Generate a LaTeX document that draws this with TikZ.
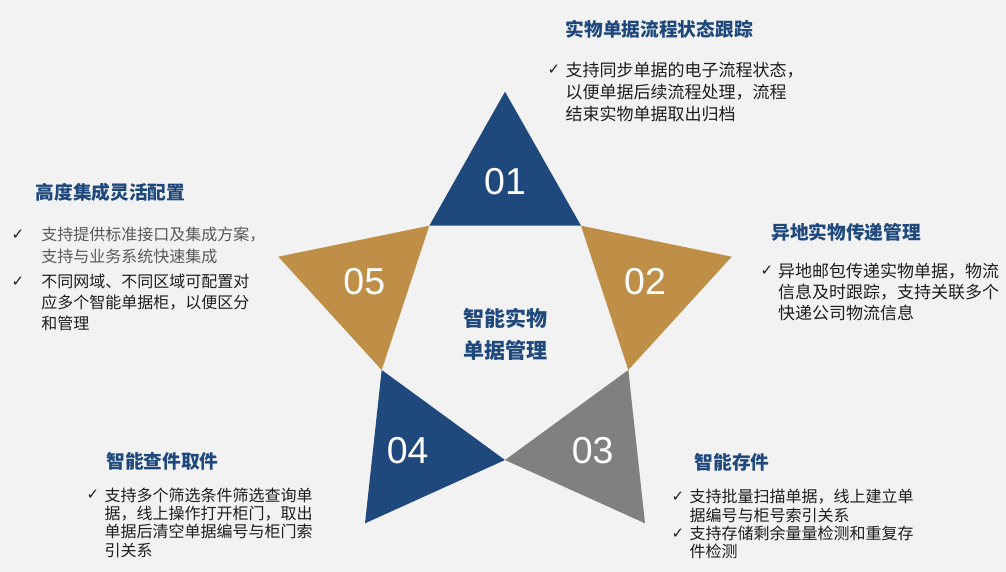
\documentclass[tikz,border=0pt]{standalone}
\usepackage{fontspec}
\setmainfont{Liberation Sans}
\newfontfamily\cjk{Noto Sans CJK SC}
\newfontfamily\symfont{DejaVu Sans}
\definecolor{bgcol}{HTML}{F2F2F2}
\definecolor{starblue}{HTML}{1F497D}
\definecolor{stargold}{HTML}{BF8F48}
\definecolor{stargray}{HTML}{808080}
\definecolor{titleblue}{HTML}{1F497D}
\definecolor{bodytext}{HTML}{1E1E1E}
\definecolor{bodygray}{HTML}{595959}
\tikzset{
  ttl/.style={anchor=west, inner sep=0pt, font=\cjk\bfseries\fontsize{18.7}{20}\selectfont, text=titleblue},
  bodyline/.style={anchor=west, inner sep=0pt, font=\cjk\fontsize{16}{18}\selectfont, text=bodytext},
  bodybig/.style={bodyline, font=\cjk\fontsize{17}{19}\selectfont},
  chk/.style={anchor=center, inner sep=0pt, font=\symfont\fontsize{15}{17}\selectfont, text=bodytext},
  num/.style={inner sep=0pt, font=\fontsize{37.5}{40}\selectfont, text=white},
  centre/.style={inner sep=0pt, font=\cjk\bfseries\fontsize{21}{24}\selectfont, text=titleblue}
}
\begin{document}
\begin{tikzpicture}[x=1pt,y=-1pt]
\fill[bgcol] (0,0) rectangle (1006,572);
\useasboundingbox (0,0) rectangle (1006,572);
% star geometry
\coordinate (i1) at (429.3,225.7);
\coordinate (i2) at (581,225.7);
\coordinate (i3) at (628.3,370);
\coordinate (i4) at (505,460);
\coordinate (i5) at (381.7,370);
\coordinate (o1) at (505,91.7);
\coordinate (o2) at (731.7,256.7);
\coordinate (o3) at (645,523.3);
\coordinate (o4) at (365,523.3);
\coordinate (o5) at (278.3,256.7);
\fill[starblue] (i1) -- (o1) -- (i2) -- cycle;
\fill[stargold] (i2) -- (o2) -- (i3) -- cycle;
\fill[stargray] (i3) -- (o3) -- (i4) -- cycle;
\fill[starblue] (i4) -- (o4) -- (i5) -- cycle;
\fill[stargold] (i5) -- (o5) -- (i1) -- cycle;
\node[num] (n1) at (505,181.7) {01};
\node[num] (n2) at (645,281.7) {02};
\node[num] (n3) at (592.7,451) {03};
\node[num] (n4) at (407.7,451) {04};
\node[num] (n5) at (364.3,281.7) {05};
\node[centre] (c1) at (505.8,318.3) {智能实物};
\node[centre] (c2) at (505.8,350) {单据管理};
% block 1
\node[ttl] (h1) at (565.5,29.3) {实物单据流程状态跟踪};
\node[chk] (k1) at (554,70) {✓};
\node[bodybig] (b1a) at (565.5,70) {支持同步单据的电子流程状态，};
\node[bodybig] (b1b) at (565.5,92.3) {以便单据后续流程处理，流程};
\node[bodybig] (b1c) at (565.5,114.3) {结束实物单据取出归档};
% block 2
\node[ttl] (h2) at (35.5,192.7) {高度集成灵活配置};
\node[chk] (k2a) at (18,235) {✓};
\node[bodyline,text=bodygray] (b2a) at (41.2,235) {支持提供标准接口及集成方案，};
\node[bodyline,text=bodygray] (b2b) at (41.2,256.7) {支持与业务系统快速集成};
\node[chk] (k2b) at (18,281.7) {✓};
\node[bodyline] (b2c) at (41.2,281.7) {不同网域、不同区域可配置对};
\node[bodyline] (b2d) at (41.2,302.3) {应多个智能单据柜，以便区分};
\node[bodyline] (b2e) at (41.2,323.3) {和管理};
% block 3
\node[ttl] (h3) at (771.2,232.7) {异地实物传递管理};
\node[chk] (k3) at (767,271) {✓};
\node[bodybig] (b3a) at (777.8,271) {异地邮包传递实物单据，物流};
\node[bodybig] (b3b) at (777.8,291.7) {信息及时跟踪，支持关联多个};
\node[bodybig] (b3c) at (777.8,313.3) {快递公司物流信息};
% block 4
\node[ttl] (h4) at (106.2,461.7) {智能查件取件};
\node[chk] (k4) at (93,495) {✓};
\node[bodyline] (b4a) at (104.5,495) {支持多个筛选条件筛选查询单};
\node[bodyline] (b4b) at (104.5,513.3) {据，线上操作打开柜门，取出};
\node[bodyline] (b4c) at (104.5,531.7) {单据后清空单据编号与柜门索};
\node[bodyline] (b4d) at (104.5,550) {引关系};
% block 5
\node[ttl] (h5) at (694.5,462.7) {智能存件};
\node[chk] (k5a) at (678,496.7) {✓};
\node[bodyline] (b5a) at (689.5,496.7) {支持批量扫描单据，线上建立单};
\node[bodyline] (b5b) at (689.5,515) {据编号与柜号索引关系};
\node[chk] (k5b) at (678,533.3) {✓};
\node[bodyline] (b5c) at (689.5,533.3) {支持存储剩余量量检测和重复存};
\node[bodyline] (b5d) at (689.5,551.7) {件检测};
\end{tikzpicture}
\end{document}
